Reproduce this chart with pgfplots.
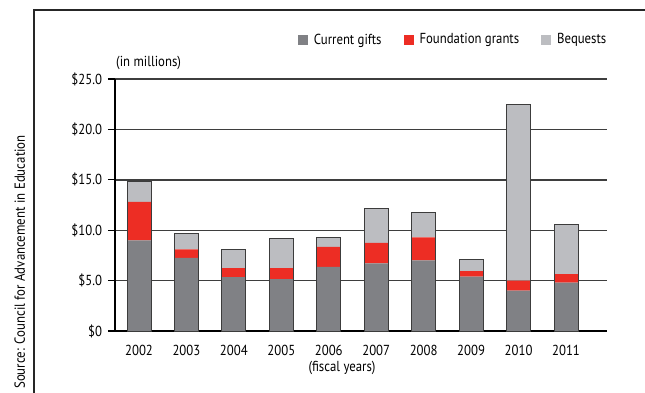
\documentclass[border=0pt]{standalone}
\usepackage{fontspec}
\setmainfont[FakeStretch=0.88]{PT Sans}
\usepackage{pgfplots}
\pgfplotsset{compat=1.18}
\definecolor{cur}{RGB}{128,129,133}
\definecolor{fnd}{RGB}{237,45,36}
\definecolor{beq}{RGB}{188,189,193}
\definecolor{gridc}{RGB}{62,62,62}
\definecolor{edgec}{RGB}{60,60,60}
\begin{document}
\fontsize{14.5bp}{16bp}\selectfont
\begin{tikzpicture}[x=1bp,y=1bp]
% axis box lower-left is at (0,0); reference pixel (px,py) -> (px-115, 331-py)
\useasboundingbox (-115,-61) rectangle (530,331);
\begin{scope}
\clip (-115,-61) rectangle (530,331);
\draw[line width=1.2bp, black!85] (-81,-80) -- (-81,321) -- (600,321);
\node[rotate=90, anchor=base east, inner sep=0pt, font=\fontsize{14.6bp}{16bp}\selectfont] at (-90,196) {Source: Council for Advancement in Education};
\end{scope}
\pgfplotsset{
  base/.style={
    scale only axis,
    width=492bp, height=252bp,
    xmin=-0.506, xmax=9.864, ymin=0, ymax=25,
    bar width=24bp,
  }
}
\begin{axis}[base,
  ybar stacked,
  axis lines=left, axis line style={-, line width=1.2bp, black},
  xtick={0,...,9},
  xticklabels={2002,2003,2004,2005,2006,2007,2008,2009,2010,2011},
  xtick style={draw=none},
  ytick={0,5,10,15,20,25},
  yticklabels={\$0,\$5.0,\$10.0,\$15.0,\$20.0,\$25.0},
  ytick style={line width=1.2bp, black},
  tick align=outside, major tick length=7bp,
  ymajorgrids, grid style={gridc, line width=1.4bp},
  xticklabel style={yshift=-2bp},
  yticklabel style={xshift=-1bp},
  legend style={draw=none, fill=none, at={(1.005,1.155)}, anchor=east,
    legend columns=3, nodes={inner sep=0pt, anchor=west},
    /tikz/every odd column/.append style={column sep=6bp},
    /tikz/every even column/.append style={column sep=22bp}},
  legend image code/.code={\path[#1, draw=none] (0bp,-5bp) rectangle (10bp,5bp);},
]
\addplot[fill=cur, draw=none] coordinates {(0,9.0) (1,7.25) (2,5.35) (3,5.15) (4,6.35) (5,6.7) (6,7.0) (7,5.4) (8,4.0) (9,4.8)};
\addplot[fill=fnd, draw=none] coordinates {(0,3.8) (1,0.85) (2,0.9) (3,1.1) (4,2.0) (5,2.05) (6,2.3) (7,0.55) (8,1.0) (9,0.85)};
\addplot[fill=beq, draw=none] coordinates {(0,2.0) (1,1.55) (2,1.8) (3,2.9) (4,0.95) (5,3.4) (6,2.5) (7,1.1) (8,17.5) (9,4.9)};
\legend{Current gifts, Foundation grants, Bequests}
\end{axis}
\begin{axis}[base, ybar, axis lines=none, ticks=none]
\addplot[fill=none, draw=edgec, line width=1bp] coordinates {(0,14.8) (1,9.65) (2,8.05) (3,9.15) (4,9.3) (5,12.15) (6,11.8) (7,7.05) (8,22.5) (9,10.55)};
\end{axis}
\node[anchor=base west, inner sep=0pt] at (1,265) {(in millions)};
\node[anchor=base, inner sep=0pt] at (227,-40) {(fiscal years)};
\end{tikzpicture}
\end{document}
